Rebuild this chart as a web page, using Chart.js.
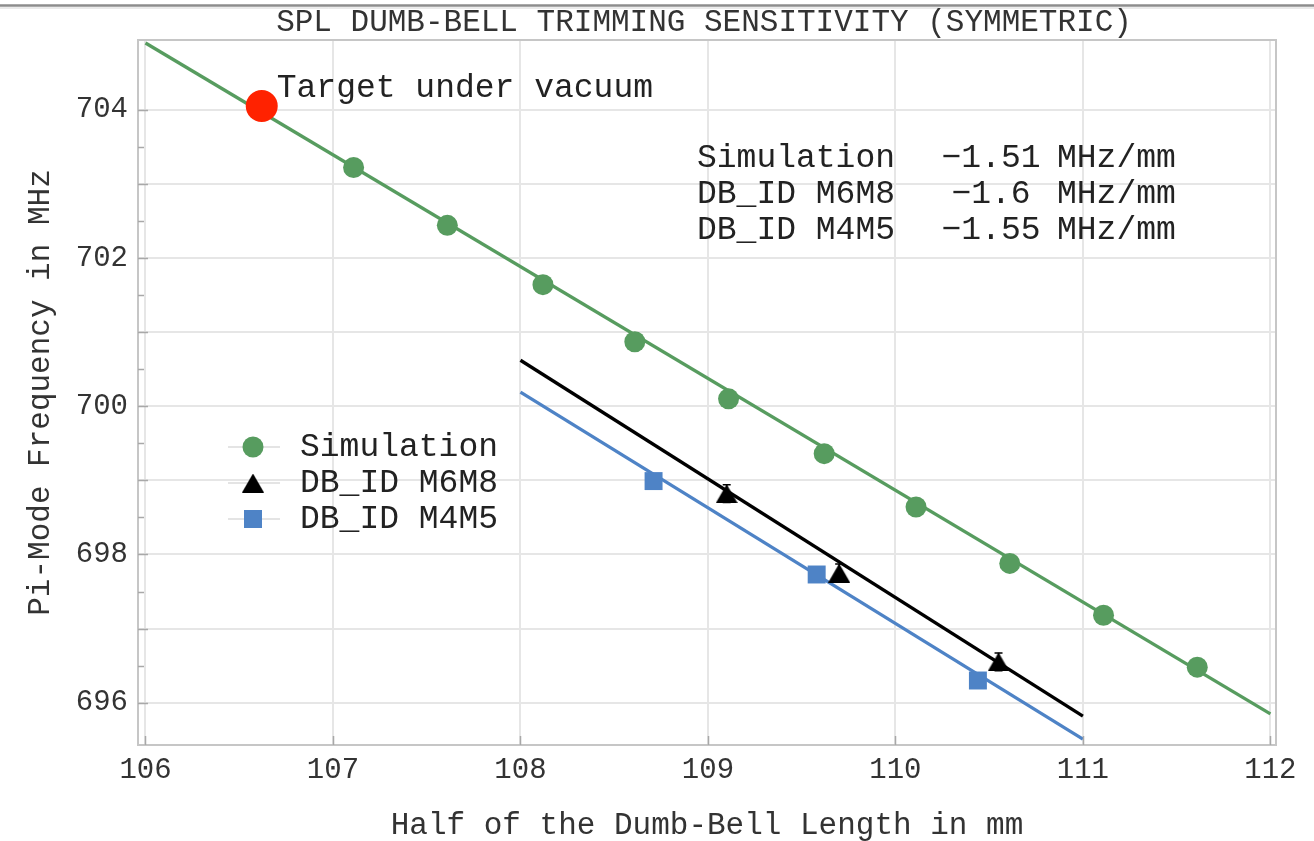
<!DOCTYPE html>
<html>
<head>
<meta charset="utf-8">
<script src="https://cdn.jsdelivr.net/npm/chart.js@4.4.0/dist/chart.umd.min.js"></script>
<style>
  html, body { margin: 0; padding: 0; background: #fff; overflow: hidden; }
  #wrap { width: 1314px; height: 841px; position: relative; }
</style>
</head>
<body>
<div id="wrap"><canvas id="c" width="1314" height="841"></canvas></div>
<script>
// ---- texts ----
const chartTitle = 'SPL DUMB-BELL TRIMMING SENSITIVITY (SYMMETRIC)';
const xAxisTitle = 'Half of the Dumb-Bell Length in mm';
const yAxisTitle = 'Pi-Mode Frequency in MHz';

// ---- axes ----
const xTickValues = [106, 107, 108, 109, 110, 111, 112];
const yGridValues = [696, 697, 698, 699, 700, 701, 702, 703, 704];
const yTickLabels = [696, 698, 700, 702, 704];

// ---- simulation (green) ----
const simLength = [107.11, 107.61, 108.12, 108.61, 109.11, 109.62, 110.11, 110.61, 111.11, 111.61];
const simFreq   = [703.22, 702.44, 701.64, 700.87, 700.10, 699.36, 698.64, 697.88, 697.18, 696.48];
const simFitLength = [106, 112];
const simFitFreq   = [704.90, 695.85];

// ---- measured dumb-bell M6M8 (black) ----
const m6m8Length = [109.10, 109.70, 110.55];
const m6m8Freq   = [698.82, 697.75, 696.55];
const m6m8Err    = [0.12, 0.12, 0.12];
const m6m8FitLength = [108, 111];
const m6m8FitFreq   = [700.62, 695.82];

// ---- measured dumb-bell M4M5 (blue) ----
const m4m5Length = [108.71, 109.58, 110.44];
const m4m5Freq   = [698.99, 697.73, 696.30];
const m4m5FitLength = [108, 111];
const m4m5FitFreq   = [700.19, 695.51];

// ---- target ----
const targetLength = [106.62];
const targetFreq   = [704.05];
const targetLabel  = 'Target under vacuum';

// ---- legend / slope table ----
const seriesNames = ['Simulation', 'DB_ID M6M8', 'DB_ID M4M5'];
const slopeValues = [-1.51, -1.6, -1.55];
const slopeUnit = 'MHz/mm';

const GREEN = '#579c5f';
const BLACK = '#000000';
const BLUE  = '#4e83c6';
const RED   = '#ff2200';
const FONT  = '"Liberation Mono", "DejaVu Sans Mono", monospace';
const TEXT  = '#222222';

const pts = (xs, ys) => xs.map((x, i) => ({ x: x, y: ys[i] }));

// triangle marker centred on its bounding box
function makeTriangle(w, h, color) {
  const cv = document.createElement('canvas');
  cv.width = w; cv.height = h;
  const g = cv.getContext('2d');
  g.fillStyle = color;
  g.beginPath();
  g.moveTo(w / 2, 0);
  g.lineTo(w, h);
  g.lineTo(0, h);
  g.closePath();
  g.fill();
  return cv;
}
const triMarker = makeTriangle(22, 19, BLACK);

const framePlugin = {
  id: 'frame',
  beforeDraw(chart) {
    const ctx = chart.ctx;
    ctx.save();
    ctx.fillStyle = '#fff';
    ctx.fillRect(0, 0, chart.width, chart.height);
    ctx.strokeStyle = '#8c8c8c';
    ctx.lineWidth = 2.5;
    ctx.beginPath();
    ctx.moveTo(0, 5.5);
    ctx.lineTo(chart.width, 5.5);
    ctx.stroke();
    ctx.strokeStyle = '#d6d6d6';
    ctx.lineWidth = 1;
    ctx.beginPath();
    ctx.moveTo(0, 8);
    ctx.lineTo(chart.width, 8);
    ctx.stroke();
    ctx.restore();
  },
  afterDatasetsDraw(chart) {
    const ctx = chart.ctx;
    const xs = chart.scales.x, ys = chart.scales.y;
    // error bars on the M6M8 points
    ctx.save();
    ctx.strokeStyle = BLACK;
    ctx.lineWidth = 1.5;
    m6m8Length.forEach((x, i) => {
      const px = xs.getPixelForValue(x);
      const top = ys.getPixelForValue(m6m8Freq[i] + m6m8Err[i]);
      const bot = ys.getPixelForValue(m6m8Freq[i] - m6m8Err[i]);
      ctx.beginPath();
      ctx.moveTo(px, top); ctx.lineTo(px, bot);
      ctx.moveTo(px - 4, top); ctx.lineTo(px + 4, top);
      ctx.moveTo(px - 4, bot); ctx.lineTo(px + 4, bot);
      ctx.stroke();
    });
    ctx.restore();
  },
  afterDraw(chart) {
    const ctx = chart.ctx;
    const a = chart.chartArea;
    const xs = chart.scales.x, ys = chart.scales.y;
    ctx.save();
    // frame
    ctx.strokeStyle = '#c6c6c6';
    ctx.lineWidth = 2;
    ctx.strokeRect(a.left, a.top, a.right - a.left, a.bottom - a.top);
    // inner ticks
    ctx.strokeStyle = '#a8a8a8';
    ctx.lineWidth = 1.5;
    ctx.beginPath();
    xTickValues.forEach(v => {
      const px = Math.round(xs.getPixelForValue(v)) + 0.5;
      ctx.moveTo(px, a.bottom); ctx.lineTo(px, a.bottom - 9);
    });
    for (let v = yGridValues[0]; v <= yGridValues[yGridValues.length - 1] + 0.01; v += 0.5) {
      const py = Math.round(ys.getPixelForValue(v)) + 0.5;
      const len = Number.isInteger(v) ? 10 : 6;
      ctx.moveTo(a.left, py); ctx.lineTo(a.left + len, py);
    }
    ctx.stroke();

    // title
    ctx.fillStyle = '#333';
    ctx.font = '31px ' + FONT;
    ctx.textAlign = 'center';
    ctx.textBaseline = 'middle';
    ctx.fillText(chartTitle, 704, 23);

    // target label
    ctx.font = '33px ' + FONT;
    ctx.fillStyle = TEXT;
    ctx.textAlign = 'left';
    const tx = xs.getPixelForValue(targetLength[0]);
    const ty = ys.getPixelForValue(targetFreq[0]);
    ctx.fillText(targetLabel, tx + 15, ty - 18);

    // slope table
    const rowY = [158, 194, 230];
    seriesNames.forEach((name, i) => {
      ctx.textAlign = 'left';
      ctx.fillText(name, 697, rowY[i]);
      ctx.textAlign = 'center';
      ctx.fillText('\u2212' + Math.abs(slopeValues[i]), 991, rowY[i]);
      ctx.textAlign = 'left';
      ctx.fillText(slopeUnit, 1057, rowY[i]);
    });

    // legend
    const legX = 253, legY = [447, 483, 519];
    ctx.strokeStyle = '#e4e4e4';
    ctx.lineWidth = 2;
    legY.forEach(y => {
      ctx.beginPath(); ctx.moveTo(228, y); ctx.lineTo(280, y); ctx.stroke();
    });
    ctx.fillStyle = GREEN;
    ctx.beginPath(); ctx.arc(legX, legY[0], 10.5, 0, Math.PI * 2); ctx.fill();
    ctx.drawImage(triMarker, legX - 11, legY[1] - 9.5);
    ctx.fillStyle = BLUE;
    ctx.fillRect(legX - 9, legY[2] - 9, 18, 18);
    ctx.fillStyle = TEXT;
    ctx.textAlign = 'left';
    seriesNames.forEach((name, i) => ctx.fillText(name, 300, legY[i]));
    ctx.restore();
  }
};

const lineDs = (label, xs, ys, color, order) => ({
  label, type: 'line', data: pts(xs, ys), borderColor: color, borderWidth: 3.3,
  pointRadius: 0, showLine: true, fill: false, order
});

new Chart(document.getElementById('c'), {
  type: 'scatter',
  data: {
    datasets: [
      { label: 'Target', data: pts(targetLength, targetFreq), backgroundColor: RED,
        pointRadius: 16, pointBorderWidth: 0, order: 0 },
      { label: seriesNames[0], data: pts(simLength, simFreq), backgroundColor: GREEN,
        pointRadius: 10.5, pointBorderWidth: 0, order: 1 },
      { label: seriesNames[1], data: pts(m6m8Length, m6m8Freq), pointStyle: triMarker,
        backgroundColor: BLACK, pointRadius: 11, pointBorderWidth: 0, order: 2 },
      { label: seriesNames[2], data: pts(m4m5Length, m4m5Freq), pointStyle: 'rect',
        backgroundColor: BLUE, pointRadius: 12.7, pointBorderWidth: 0, order: 3 },
      lineDs('Simulation fit', simFitLength, simFitFreq, GREEN, 4),
      lineDs('M6M8 fit', m6m8FitLength, m6m8FitFreq, BLACK, 5),
      lineDs('M4M5 fit', m4m5FitLength, m4m5FitFreq, BLUE, 6)
    ]
  },
  options: {
    responsive: false,
    animation: false,
    events: [],
    layout: { padding: { left: 0, right: 38, top: 40, bottom: 0 } },
    plugins: { legend: { display: false }, tooltip: { enabled: false }, title: { display: false } },
    scales: {
      x: {
        type: 'linear', min: 105.96, max: 112.03,
        afterBuildTicks: s => { s.ticks = xTickValues.map(v => ({ value: v })); },
        afterFit: s => { s.height = 96; },
        grid: { color: '#e6e6e6', lineWidth: 2, drawTicks: false },
        border: { display: false },
        ticks: { autoSkip: false, maxRotation: 0, padding: 8, color: '#333',
                 font: { family: FONT, size: 29 } },
        title: { display: true, text: xAxisTitle, color: '#333',
                 font: { family: FONT, size: 31, lineHeight: 1 }, padding: { top: 0, bottom: 0 } }
      },
      y: {
        type: 'linear', min: 695.43, max: 704.94,
        afterBuildTicks: s => { s.ticks = yGridValues.map(v => ({ value: v })); },
        afterFit: s => { s.width = 138; },
        grid: { color: '#e6e6e6', lineWidth: 2, drawTicks: false },
        border: { display: false },
        ticks: { autoSkip: false, padding: 10, color: '#333',
                 font: { family: FONT, size: 29 },
                 callback: v => yTickLabels.includes(v) ? String(v) : '' },
        title: { display: true, text: yAxisTitle, color: '#333',
                 font: { family: FONT, size: 31, lineHeight: 1 }, padding: { top: 25, bottom: 0 } }
      }
    }
  },
  plugins: [framePlugin]
});
</script>
</body>
</html>
